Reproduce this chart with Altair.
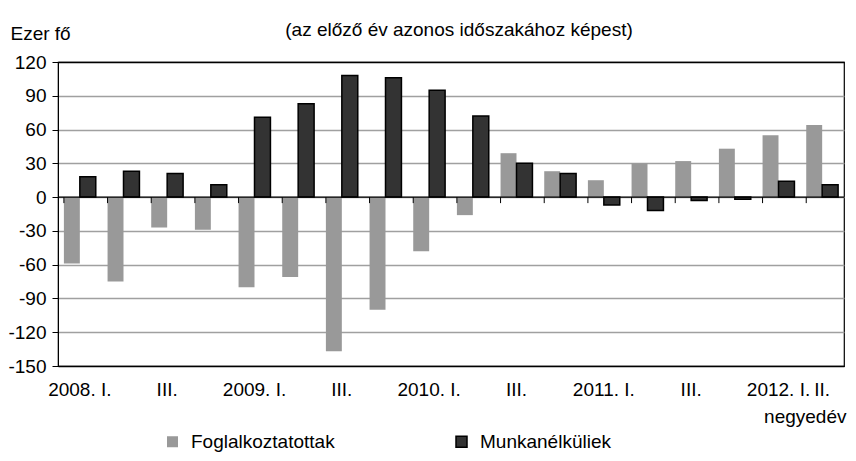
import altair as alt
import pandas as pd

quarters = ["2008. I.", "2008. II.", "2008. III.", "2008. IV.",
            "2009. I.", "2009. II.", "2009. III.", "2009. IV.",
            "2010. I.", "2010. II.", "2010. III.", "2010. IV.",
            "2011. I.", "2011. II.", "2011. III.", "2011. IV.",
            "2012. I.", "2012. II."]
tick_labels = ["2008. I.", "", "III.", "", "2009. I.", "", "III.", "",
               "2010. I.", "", "III.", "", "2011. I.", "", "III.", "",
               "2012. I.", "II."]
foglalkoztatottak = [-59, -75, -27, -29, -80, -71, -137, -100, -48, -16,
                     39, 23, 15, 30, 32, 43, 55, 64]
munkanelkuliek = [18, 23, 21, 11, 71, 83, 108, 106, 95, 72,
                  30, 21, -7, -12, -3, -2, 14, 11]
series_names = ["Foglalkoztatottak", "Munkanélküliek"]
y_ticks = [-150, -120, -90, -60, -30, 0, 30, 60, 90, 120]

rows = []
for name, vals in zip(series_names, [foglalkoztatottak, munkanelkuliek]):
    for q, v in zip(quarters, vals):
        rows.append({"q": q, "series": name, "value": v})
df = pd.DataFrame(rows)

FONT = "Liberation Sans"
FS = 19

def js_list(items):
    return "[" + ",".join("'" + s + "'" for s in items) + "]"

label_expr = f"{js_list(tick_labels)}[indexof({js_list(quarters)}, datum.value)]"

x_enc = alt.X("q:N", sort=quarters,
              scale=alt.Scale(paddingInner=0.27, paddingOuter=0.135),
              axis=alt.Axis(labelExpr=label_expr, labelAngle=0, ticks=False, domain=False,
                            grid=False, labelPadding=14, labelFontSize=FS, labelColor="black",
                            labelOverlap=False,
                            title="negyedév", titleFontSize=FS, titleFontWeight="normal",
                            titleColor="black", titleAlign="right", titleX=788, titleY=50,
                            titleBaseline="middle", titleAngle=0))

y_scale = alt.Scale(domain=[-150, 120], nice=False, zero=False)

legend = alt.Legend(title=None, orient="none", legendX=105, legendY=370, direction="horizontal",
                    symbolType="square", symbolSize=121, symbolStrokeWidth=1.5,
                    labelFontSize=FS, labelColor="black", labelOffset=9, columnPadding=117)

y_axis = alt.Axis(values=y_ticks, grid=True, labelOverlap=False,
                  labelExpr="toString(datum.value)",
                  gridColor={"condition": {"test": "datum.value == 120 || datum.value == -150",
                                           "value": "black"}, "value": "#a0a0a0"},
                  gridWidth=1.3, domainColor="black", tickColor="black", tickSize=6,
                  labelPadding=6, labelFontSize=FS, labelColor="black",
                  title="Ezer fő", titleFontSize=FS, titleFontWeight="normal",
                  titleColor="black", titleAngle=0, titleAlign="left",
                  titleX=-48, titleY=-29, titleBaseline="middle")

bars = alt.Chart(df).mark_bar(strokeWidth=1.5).encode(
    x=x_enc,
    xOffset=alt.XOffset("series:N", sort=series_names, scale=alt.Scale(paddingInner=0, paddingOuter=0)),
    y=alt.Y("value:Q", scale=y_scale, axis=y_axis),
    fill=alt.Fill("series:N", sort=series_names,
                  scale=alt.Scale(domain=series_names, range=["#999999", "#333333"]), legend=legend),
    stroke=alt.Stroke("series:N", sort=series_names,
                      scale=alt.Scale(domain=series_names, range=["transparent", "#000000"]), legend=legend),
)

zero_line = alt.Chart(pd.DataFrame({"value": [0]})).mark_rule(color="black", strokeWidth=1.3).encode(
    y=alt.Y("value:Q", scale=y_scale, axis=y_axis)
)

cat_ticks = alt.Chart(pd.DataFrame({"q": quarters, "value": [0] * len(quarters)})).mark_rule(
    color="black", strokeWidth=1, y2Offset=6
).encode(
    x=alt.X("q:N", sort=quarters, bandPosition=0),
    y=alt.Y("value:Q", scale=y_scale, axis=y_axis),
    y2=alt.Y2("value:Q"),
)

chart = alt.layer(bars, zero_line, cat_ticks).properties(
    width=786, height=304,
    title=alt.TitleParams("(az előző év azonos időszakához képest)", fontSize=FS,
                          fontWeight="normal", color="black", anchor="middle", offset=-16,
                          frame="group", dx=8),
    autosize=alt.AutoSizeParams(type="none"),
    padding={"left": 50, "top": 54, "right": 4, "bottom": 86},
).configure(font=FONT).configure_view(stroke="black", strokeWidth=1.2).configure_axis(
    labelOverlap=False
)

chart.save("out.html", embed_options={"renderer": "svg", "actions": False})
